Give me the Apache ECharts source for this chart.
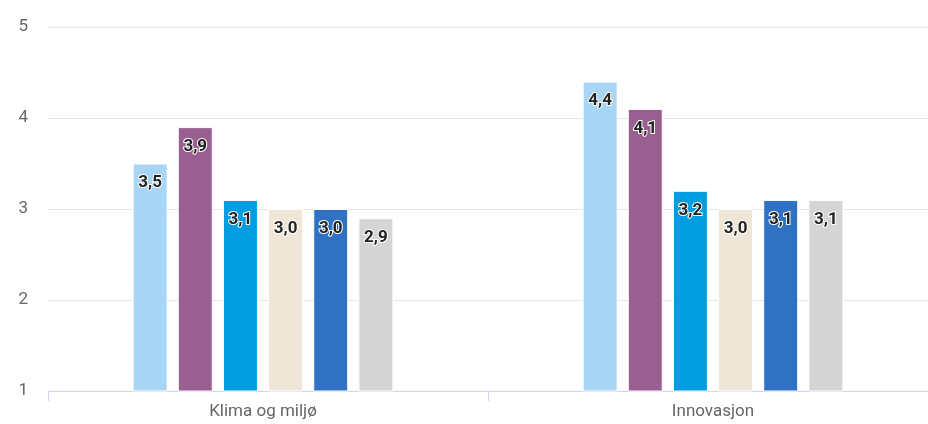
<!DOCTYPE html>
<html><head><meta charset="utf-8">
<script src="https://cdn.jsdelivr.net/npm/echarts@6/dist/echarts.min.js"></script>
<style>html,body{margin:0;padding:0;background:#fff}#c{width:928px;height:424px}</style>
</head><body><div id="c"></div>
<script>
var categories = ["Klima og miljø", "Innovasjon"];
var seriesA = [3.5, 4.4];
var seriesB = [3.9, 4.1];
var seriesC = [3.1, 3.2];
var seriesD = [3.0, 3.0];
var seriesE = [3.0, 3.1];
var seriesF = [2.9, 3.1];
var yTicks = [1, 2, 3, 4, 5];
var colors = ["#a8d5f5", "#9a5f91", "#009de0", "#efe6d8", "#2f72c4", "#d5d5d5"];
var allSeries = [seriesA, seriesB, seriesC, seriesD, seriesE, seriesF];

var yMin = yTicks[0], yMax = yTicks[yTicks.length - 1];
var chart = echarts.init(document.getElementById('c'));
chart.setOption({
  animation: false,
  grid: [
    {left: 48, right: 0, top: 27, bottom: 33, outerBoundsMode: 'none'},
    {left: 38, right: -10, top: 27, bottom: 33, outerBoundsMode: 'none'}
  ],
  xAxis: [{
    gridIndex: 0, type: 'category', data: categories,
    axisLine: {lineStyle: {color: '#ccd6eb', width: 1}},
    axisTick: {show: true, length: 10, lineStyle: {color: '#ccd6eb'}},
    axisLabel: {show: false}
  }, {
    gridIndex: 1, type: 'category', data: categories,
    axisLine: {show: false}, axisTick: {show: false},
    axisLabel: {color: '#666', fontSize: 17, fontFamily: 'Roboto', margin: 12}
  }],
  yAxis: [{
    gridIndex: 0, type: 'value', min: yMin, max: yMax, interval: 1,
    axisLine: {show: false}, axisTick: {show: false},
    splitLine: {lineStyle: {color: '#e6e6e6', width: 1}},
    axisLabel: {color: '#666', fontSize: 17, fontFamily: 'Roboto', margin: 20}
  }, {
    gridIndex: 1, type: 'value', min: yMin, max: yMax, interval: 1, show: false,
    splitLine: {show: false}
  }],
  series: allSeries.map(function (d, i) {
    return {
      type: 'bar', data: d, xAxisIndex: 1, yAxisIndex: 1,
      barWidth: 35, barGap: '29%',
      itemStyle: {color: colors[i], borderColor: '#fff', borderWidth: 1},
      label: {
        show: true, position: 'insideTop', distance: 11,
        formatter: function (p) { return p.value.toFixed(1).replace('.', ','); },
        color: '#222', fontWeight: 'bold', fontSize: 17, fontFamily: 'Roboto',
        textBorderColor: '#fff', textBorderWidth: 2
      }
    };
  })
});
</script></body></html>
